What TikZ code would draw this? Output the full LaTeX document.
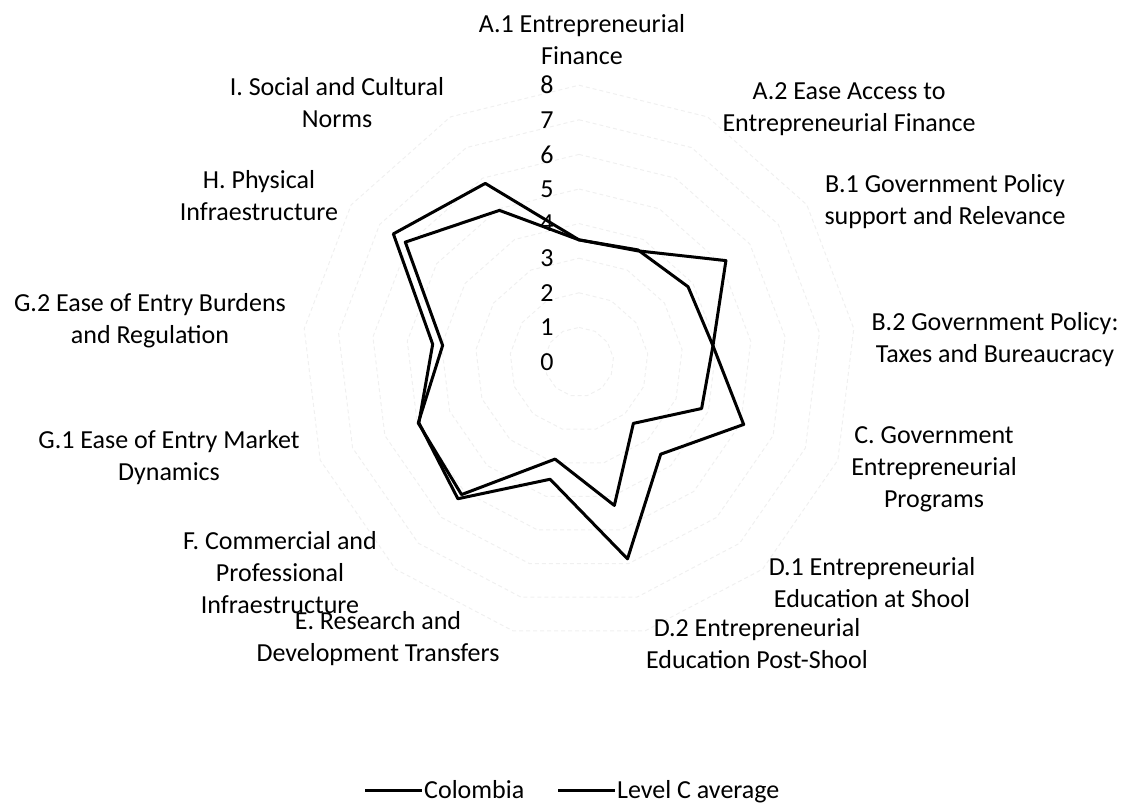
\documentclass[tikz,border=0pt]{standalone}
\usepackage{fontspec}
\setmainfont{Carlito}
\begin{document}
\begin{tikzpicture}[x=1pt,y=-1pt,
  lbl/.style={font=\fontsize{26}{32}\selectfont, align=center, inner sep=0pt},
  tick/.style={font=\fontsize{26}{32}\selectfont, inner sep=0pt},
  ring/.style={draw=black!6, line width=1pt, dash pattern=on 4pt off 3pt},
  series/.style={draw=black, line width=3pt, line join=round},
  legline/.style={draw=black, line width=3pt},
]
\useasboundingbox (0,0) rectangle (1129,804);
\def\cx{579}\def\cy{362}\def\rs{34.6}
% grid rings
\foreach \r in {1,...,8}{
  \draw[ring] ({\cx},{\cy-\rs*\r}) \foreach \k in {1,...,12}{ -- ({\cx+\rs*\r*sin(\k*360/13)},{\cy-\rs*\r*cos(\k*360/13)}) } -- cycle;
}
% scale labels
\foreach \t in {0,...,8}{
  \node[tick] (t\t) at (547,{\cy-\rs*\t}) {\t};
}
% series coordinates
\foreach \v [count=\k from 0] in {3.53,3.63,5.16,3.9,3.79,2.37,4.27,2.89,5.12,4.97,3.97,6.1,4.95}{
  \coordinate (p\k) at ({\cx+\rs*\v*sin(\k*360/13)},{\cy-\rs*\v*cos(\k*360/13)});
}
\foreach \v [count=\k from 0] in {3.53,3.66,3.83,3.9,5.09,3.56,5.86,3.49,5.28,4.95,4.26,6.52,5.83}{
  \coordinate (q\k) at ({\cx+\rs*\v*sin(\k*360/13)},{\cy-\rs*\v*cos(\k*360/13)});
}
\draw[series] (p0) -- (p1) -- (p2) -- (p3) -- (p4) -- (p5) -- (p6) -- (p7) -- (p8) -- (p9) -- (p10) -- (p11) -- (p12) -- cycle;
\draw[series] (q0) -- (q1) -- (q2) -- (q3) -- (q4) -- (q5) -- (q6) -- (q7) -- (q8) -- (q9) -- (q10) -- (q11) -- (q12) -- cycle;
% axis labels
\node[lbl] (la1) at (582,40) {A.1 Entrepreneurial\\Finance};
\node[lbl] (la2) at (849,109) {A.2 Ease Access to\\Entrepreneurial Finance};
\node[lbl] (lb1) at (945,202) {B.1 Government Policy\\support and Relevance};
\node[lbl] (lb2) at (995,340) {B.2 Government Policy:\\Taxes and Bureaucracy};
\node[lbl] (lc) at (934,469) {C. Government\\Entrepreneurial\\Programs};
\node[lbl] (ld1) at (872,583) {D.1 Entrepreneurial\\Education at Shool};
\node[lbl] (ld2) at (757,644) {D.2 Entrepreneurial\\Education Post-Shool};
\node[lbl] (le) at (378,639) {E. Research and\\Development Transfers};
\node[lbl] (lf) at (280,573) {F. Commercial and\\Professional\\Infraestructure};
\node[lbl] (lg1) at (169,458) {G.1 Ease of Entry Market\\Dynamics};
\node[lbl] (lg2) at (150,321) {G.2 Ease of Entry Burdens\\and Regulation};
\node[lbl] (lh) at (259,196) {H. Physical\\Infraestructure};
\node[lbl] (li) at (337,103) {I. Social and Cultural\\Norms};
% legend
\coordinate (l1a) at (365,790);
\coordinate (l1b) at (422,790);
\coordinate (l2a) at (558,790);
\coordinate (l2b) at (615,790);
\draw[legline] (l1a) -- (l1b);
\draw[legline] (l2a) -- (l2b);
\node[tick, anchor=base west] (lg-col) at (424,798) {Colombia};
\node[tick, anchor=base west] (lg-lev) at (617,798) {Level C average};
\end{tikzpicture}
\end{document}
